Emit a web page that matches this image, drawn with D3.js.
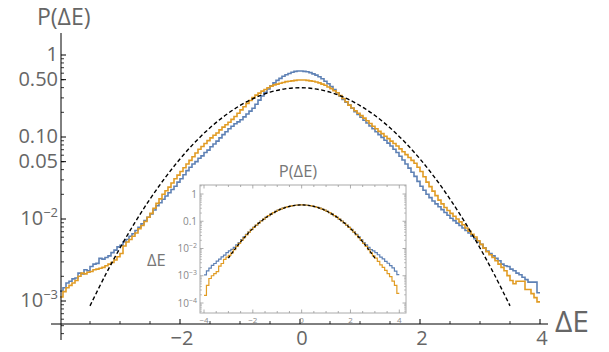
<!DOCTYPE html>
<html>
<head>
<meta charset="utf-8">
<script src="https://cdn.jsdelivr.net/npm/d3@7"></script>
<style>
  body { margin: 0; background: #fff; }
  svg { display: block; }
  text { font-family: 'Open Sans', 'DejaVu Sans', sans-serif; }
</style>
</head>
<body>
<svg id="chart" width="609" height="352"></svg>
<script>
// ---- histogram of the energy change, main panel (bins of 0.05 from -4 to 4) ----
const mainBinStart = -4;
const mainBinWidth = 0.05;
const blueMain = [
  1.32e-3,1.45e-3,1.66e-3,1.74e-3,1.86e-3,1.91e-3,2.19e-3,2.14e-3,2.40e-3,2.34e-3,
  2.63e-3,2.82e-3,2.88e-3,3.31e-3,3.24e-3,3.39e-3,3.55e-3,3.89e-3,4.17e-3,4.57e-3,
  4.79e-3,5.25e-3,5.62e-3,6.17e-3,6.61e-3,7.24e-3,7.94e-3,8.71e-3,9.55e-3,0.0105,
  0.0115,0.0129,0.0145,0.0158,0.0174,0.0191,0.0209,0.0229,0.0251,0.0282,
  0.0309,0.0347,0.0389,0.0427,0.0468,0.0501,0.0550,0.0589,0.0646,0.0692,
  0.0759,0.0822,0.0891,0.0977,0.107,0.116,0.126,0.135,0.145,0.153,
  0.162,0.176,0.191,0.207,0.224,0.251,0.282,0.316,0.351,0.385,
  0.422,0.457,0.490,0.519,0.550,0.575,0.596,0.617,0.631,0.638,
  0.638,0.631,0.624,0.610,0.589,0.569,0.543,0.513,0.479,0.447,
  0.412,0.380,0.347,0.316,0.288,0.266,0.245,0.224,0.204,0.188,
  0.174,0.160,0.148,0.136,0.126,0.116,0.107,0.0989,0.0912,0.0841,
  0.0776,0.0708,0.0646,0.0582,0.0525,0.0468,0.0417,0.0372,0.0331,0.0288,
  0.0251,0.0224,0.0200,0.0182,0.0166,0.0153,0.0141,0.0130,0.0120,0.0111,
  0.0102,9.55e-3,8.91e-3,8.32e-3,7.76e-3,7.24e-3,6.76e-3,6.17e-3,5.75e-3,5.25e-3,
  4.90e-3,4.47e-3,4.07e-3,3.80e-3,3.55e-3,3.31e-3,3.09e-3,2.82e-3,2.69e-3,2.63e-3,
  2.45e-3,2.34e-3,2.19e-3,2.09e-3,1.95e-3,1.82e-3,1.70e-3,1.70e-3,1.70e-3,1.26e-3
];
const orangeMain = [
  1.12e-3,1.30e-3,1.45e-3,1.55e-3,1.66e-3,1.78e-3,2.00e-3,2.19e-3,2.14e-3,2.24e-3,
  2.29e-3,2.40e-3,2.45e-3,2.51e-3,2.57e-3,2.69e-3,2.82e-3,2.95e-3,3.16e-3,3.47e-3,
  3.80e-3,4.68e-3,5.25e-3,5.62e-3,6.17e-3,6.76e-3,7.59e-3,8.32e-3,9.33e-3,0.0105,
  0.0117,0.0135,0.0155,0.0176,0.0200,0.0221,0.0245,0.0275,0.0309,0.0343,
  0.0380,0.0422,0.0468,0.0519,0.0575,0.0638,0.0708,0.0767,0.0832,0.0902,
  0.0977,0.105,0.112,0.122,0.132,0.141,0.151,0.164,0.178,0.195,
  0.214,0.234,0.257,0.279,0.302,0.324,0.343,0.363,0.380,0.398,
  0.417,0.432,0.442,0.452,0.462,0.473,0.479,0.484,0.490,0.495,
  0.495,0.495,0.490,0.484,0.479,0.468,0.457,0.442,0.427,0.407,
  0.389,0.367,0.347,0.320,0.295,0.269,0.245,0.226,0.209,0.195,
  0.182,0.170,0.158,0.146,0.135,0.126,0.117,0.110,0.102,0.0955,
  0.0891,0.0832,0.0776,0.0716,0.0661,0.0610,0.0562,0.0519,0.0479,0.0427,
  0.0380,0.0327,0.0282,0.0248,0.0219,0.0193,0.0170,0.0153,0.0138,0.0127,
  0.0117,0.0108,0.0100,9.23e-3,8.51e-3,7.76e-3,7.08e-3,6.53e-3,6.03e-3,5.43e-3,
  4.90e-3,4.42e-3,3.98e-3,3.67e-3,3.39e-3,3.09e-3,2.82e-3,2.57e-3,2.34e-3,2.04e-3,
  1.78e-3,1.62e-3,1.74e-3,1.74e-3,1.74e-3,1.38e-3,1.38e-3,1.23e-3,1.10e-3,9.77e-4
];

// ---- unit normal density, sampled ----
const gaussX = [-3.5,-3.25,-3,-2.75,-2.5,-2.25,-2,-1.75,-1.5,-1.25,-1,-0.75,-0.5,-0.25,0,
                0.25,0.5,0.75,1,1.25,1.5,1.75,2,2.25,2.5,2.75,3,3.25,3.5];
const gaussP = [0.000873,0.00203,0.00443,0.00909,0.0175,0.0317,0.0540,0.0863,0.1295,0.1826,0.2420,0.3011,0.3521,0.3867,0.3989,
                0.3867,0.3521,0.3011,0.2420,0.1826,0.1295,0.0863,0.0540,0.0317,0.0175,0.00909,0.00443,0.00203,0.000873];

// ---- inset histograms (bins of 0.1 from -4 to 4) ----
const insetBinStart = -4;
const insetBinWidth = 0.1;
const blueInset = [
  1.07e-3,1.51e-3,1.91e-3,2.40e-3,2.82e-3,3.47e-3,4.07e-3,4.90e-3,5.75e-3,7.08e-3,
  8.13e-3,9.33e-3,0.0110,0.0135,0.0166,0.0214,0.0269,0.0331,0.0407,0.0501,
  0.0596,0.0721,0.0863,0.102,0.120,0.139,0.160,0.183,0.206,0.230,
  0.254,0.278,0.301,0.323,0.343,0.361,0.375,0.386,0.394,0.398,
  0.398,0.394,0.386,0.375,0.361,0.343,0.323,0.301,0.278,0.254,
  0.230,0.206,0.183,0.160,0.139,0.120,0.102,0.0863,0.0721,0.0596,
  0.0501,0.0407,0.0331,0.0269,0.0214,0.0166,0.0135,0.0110,9.12e-3,8.13e-3,
  7.08e-3,5.89e-3,4.79e-3,4.17e-3,3.39e-3,2.88e-3,2.34e-3,1.95e-3,1.48e-3,1.10e-3
];
const orangeInset = [
  1.91e-4,4.47e-4,7.94e-4,1.00e-3,1.20e-3,1.41e-3,2.24e-3,2.82e-3,3.98e-3,4.79e-3,
  5.62e-3,6.92e-3,9.12e-3,0.0120,0.0155,0.0200,0.0251,0.0316,0.0398,0.0490,
  0.0596,0.0721,0.0863,0.102,0.120,0.139,0.160,0.183,0.206,0.230,
  0.254,0.278,0.301,0.323,0.343,0.361,0.375,0.386,0.394,0.398,
  0.398,0.394,0.386,0.375,0.361,0.343,0.323,0.301,0.278,0.254,
  0.230,0.206,0.183,0.160,0.139,0.120,0.102,0.0863,0.0721,0.0596,
  0.0490,0.0398,0.0316,0.0251,0.0200,0.0155,0.0120,9.12e-3,6.92e-3,5.37e-3,
  4.47e-3,3.39e-3,2.51e-3,2.04e-3,1.58e-3,1.20e-3,9.33e-4,6.31e-4,4.47e-4,2.24e-4
];

// ---- ticks ----
const mainXTicks = [-2, 0, 2, 4];
const mainXLabels = ["\u22122", "0", "2", "4"];
const mainYTicks = [1, 0.5, 0.1, 0.05, 0.01, 0.001];
const mainYLabels = [["1"], ["0.50"], ["0.10"], ["0.05"], ["10", "\u22122"], ["10", "\u22123"]];
const insetXTicks = [-4, -2, 0, 2, 4];
const insetXLabels = ["\u22124", "\u22122", "0", "2", "4"];
const insetYTicks = [1, 0.1, 0.01, 0.001, 0.0001];
const insetYLabels = [["1"], ["0.1"], ["10", "\u22122"], ["10", "\u22123"], ["10", "\u22124"]];

const COLORS = { blue: "#5e81b5", orange: "#e19c24", gauss: "#000" };
const TEXT_GRAY = "#666";

const svg = d3.select("#chart");

// step outline of a histogram: left edges plus the closing right edge
function binPoints(start, width, values) {
  const pts = values.map((v, i) => [start + i * width, v]);
  pts.push([start + values.length * width, values[values.length - 1]]);
  return pts;
}

// minor tick values for a log axis between two decades
function logMinor(loExp, hiExp) {
  const out = [];
  for (let e = loExp; e < hiExp; e++) {
    for (let m = 2; m <= 9; m++) out.push(m * Math.pow(10, e));
  }
  return out;
}

// ================= main panel =================
const x = d3.scaleLinear().domain([-4, 4]).range([60, 540]);
const y = d3.scaleLog().domain([1, 0.001]).range([55, 301]);

const xAxisY = 324;      // horizontal axis position
const yAxisX = 61;       // vertical axis position

const main = svg.append("g");

const stepLine = (sx, sy) => d3.line().x(d => sx(d[0])).y(d => sy(d[1])).curve(d3.curveStepAfter);
const smoothLine = (sx, sy) => d3.line().x(d => sx(d[0])).y(d => sy(d[1])).curve(d3.curveCatmullRom);

main.append("path")
  .attr("d", stepLine(x, y)(binPoints(mainBinStart, mainBinWidth, blueMain)))
  .attr("fill", "none").attr("stroke", COLORS.blue).attr("stroke-width", 1.6);
main.append("path")
  .attr("d", stepLine(x, y)(binPoints(mainBinStart, mainBinWidth, orangeMain)))
  .attr("fill", "none").attr("stroke", COLORS.orange).attr("stroke-width", 1.6);
main.append("path")
  .attr("d", smoothLine(x, y)(gaussX.map((g, i) => [g, gaussP[i]])))
  .attr("fill", "none").attr("stroke", COLORS.gauss).attr("stroke-width", 1.4)
  .attr("stroke-dasharray", "4,2.5");

// axes lines
main.append("line").attr("x1", 51).attr("x2", 548).attr("y1", xAxisY).attr("y2", xAxisY)
  .attr("stroke", "#000").attr("stroke-width", 1);
main.append("line").attr("x1", yAxisX).attr("x2", yAxisX).attr("y1", 33).attr("y2", 340)
  .attr("stroke", "#000").attr("stroke-width", 1);

// x ticks (pointing up)
const xMinor = d3.range(-3.5, 4.01, 0.5).filter(v => !mainXTicks.includes(v));
main.selectAll(".xminor").data(xMinor).join("line")
  .attr("x1", d => x(d)).attr("x2", d => x(d)).attr("y1", xAxisY).attr("y2", xAxisY - 3)
  .attr("stroke", "#000").attr("stroke-width", 0.8);
main.selectAll(".xmajor").data(mainXTicks).join("line")
  .attr("x1", d => x(d)).attr("x2", d => x(d)).attr("y1", xAxisY).attr("y2", xAxisY - 5)
  .attr("stroke", "#000").attr("stroke-width", 1);
main.selectAll(".xlab").data(mainXTicks).join("text")
  .attr("x", d => x(d) + 2).attr("y", 345)
  .attr("text-anchor", "middle").attr("font-size", 20).attr("fill", TEXT_GRAY)
  .text((d, i) => mainXLabels[i]);

// y ticks (pointing right)
const yMinor = logMinor(-4, 0).filter(v => y(v) > 33 && y(v) < 340);
main.selectAll(".yminor").data(yMinor).join("line")
  .attr("x1", yAxisX).attr("x2", yAxisX + 3).attr("y1", d => y(d)).attr("y2", d => y(d))
  .attr("stroke", "#000").attr("stroke-width", 0.8);
main.selectAll(".ymajor").data(mainYTicks).join("line")
  .attr("x1", yAxisX).attr("x2", yAxisX + 5).attr("y1", d => y(d)).attr("y2", d => y(d))
  .attr("stroke", "#000").attr("stroke-width", 1);
mainYTicks.forEach((t, i) => {
  const lab = mainYLabels[i];
  const txt = main.append("text")
    .attr("x", 58).attr("y", y(t) + 6)
    .attr("text-anchor", "end").attr("font-size", 20).attr("fill", TEXT_GRAY);
  txt.append("tspan").text(lab[0]);
  if (lab.length > 1) {
    txt.append("tspan").attr("font-size", 13).attr("dy", -8).text(lab[1]);
  }
});

// axis labels
main.append("text").attr("x", 37).attr("y", 25).attr("font-size", 23).attr("fill", TEXT_GRAY)
  .text("P(\u0394E)");
main.append("text").attr("x", 555).attr("y", 332).attr("font-size", 30).attr("fill", TEXT_GRAY)
  .text("\u0394E");

// ================= inset =================
const xi = d3.scaleLinear().domain([-4, 4]).range([204, 399.3]);
const yi = d3.scaleLog().domain([1, 1e-4]).range([194, 303]);
const frame = { left: 200, right: 406, top: 185, bottom: 313 };

const inset = svg.append("g");
inset.append("rect")
  .attr("x", frame.left).attr("y", frame.top)
  .attr("width", frame.right - frame.left).attr("height", frame.bottom - frame.top)
  .attr("fill", "#fff");

inset.append("path")
  .attr("d", stepLine(xi, yi)(binPoints(insetBinStart, insetBinWidth, blueInset)))
  .attr("fill", "none").attr("stroke", COLORS.blue).attr("stroke-width", 1.2);
inset.append("path")
  .attr("d", stepLine(xi, yi)(binPoints(insetBinStart, insetBinWidth, orangeInset)))
  .attr("fill", "none").attr("stroke", COLORS.orange).attr("stroke-width", 1.2);
inset.append("path")
  .attr("d", smoothLine(xi, yi)(gaussX.map((g, i) => [g, gaussP[i]]).filter(d => Math.abs(d[0]) <= 3)))
  .attr("fill", "none").attr("stroke", COLORS.gauss).attr("stroke-width", 1.2)
  .attr("stroke-dasharray", "3,2");

inset.append("rect")
  .attr("x", frame.left).attr("y", frame.top)
  .attr("width", frame.right - frame.left).attr("height", frame.bottom - frame.top)
  .attr("fill", "none").attr("stroke", "#aaa").attr("stroke-width", 1);

// frame ticks on all four sides
const xiMinor = d3.range(-4, 4.01, 0.5).filter(v => !insetXTicks.includes(v));
[[frame.bottom, -1], [frame.top, 1]].forEach(([yy, dir]) => {
  inset.selectAll(null).data(insetXTicks).join("line")
    .attr("x1", d => xi(d)).attr("x2", d => xi(d)).attr("y1", yy).attr("y2", yy + dir * 3.5)
    .attr("stroke", "#999").attr("stroke-width", 0.8);
  inset.selectAll(null).data(xiMinor).join("line")
    .attr("x1", d => xi(d)).attr("x2", d => xi(d)).attr("y1", yy).attr("y2", yy + dir * 2)
    .attr("stroke", "#999").attr("stroke-width", 0.8);
});
const yiMinor = logMinor(-5, 1).filter(v => yi(v) > frame.top && yi(v) < frame.bottom);
[[frame.left, 1], [frame.right, -1]].forEach(([xx, dir]) => {
  inset.selectAll(null).data(insetYTicks).join("line")
    .attr("x1", xx).attr("x2", xx + dir * 3.5).attr("y1", d => yi(d)).attr("y2", d => yi(d))
    .attr("stroke", "#999").attr("stroke-width", 0.8);
  inset.selectAll(null).data(yiMinor).join("line")
    .attr("x1", xx).attr("x2", xx + dir * 2).attr("y1", d => yi(d)).attr("y2", d => yi(d))
    .attr("stroke", "#999").attr("stroke-width", 0.6);
});

inset.selectAll(".ixlab").data(insetXTicks).join("text")
  .attr("x", d => xi(d)).attr("y", 323)
  .attr("text-anchor", "middle").attr("font-size", 8).attr("fill", "#888")
  .text((d, i) => insetXLabels[i]);
insetYTicks.forEach((t, i) => {
  const lab = insetYLabels[i];
  const txt = inset.append("text")
    .attr("x", 197).attr("y", yi(t) + 3.5)
    .attr("text-anchor", "end").attr("font-size", 10).attr("fill", "#888");
  txt.append("tspan").text(lab[0]);
  if (lab.length > 1) {
    txt.append("tspan").attr("font-size", 7).attr("dy", -4).text(lab[1]);
  }
});

inset.append("text").attr("x", 298).attr("y", 177).attr("text-anchor", "middle")
  .attr("font-size", 16.5).attr("fill", "#777").text("P(\u0394E)");
inset.append("text").attr("x", 147).attr("y", 266)
  .attr("font-size", 16.5).attr("fill", "#777").text("\u0394E");
</script>
</body>
</html>
